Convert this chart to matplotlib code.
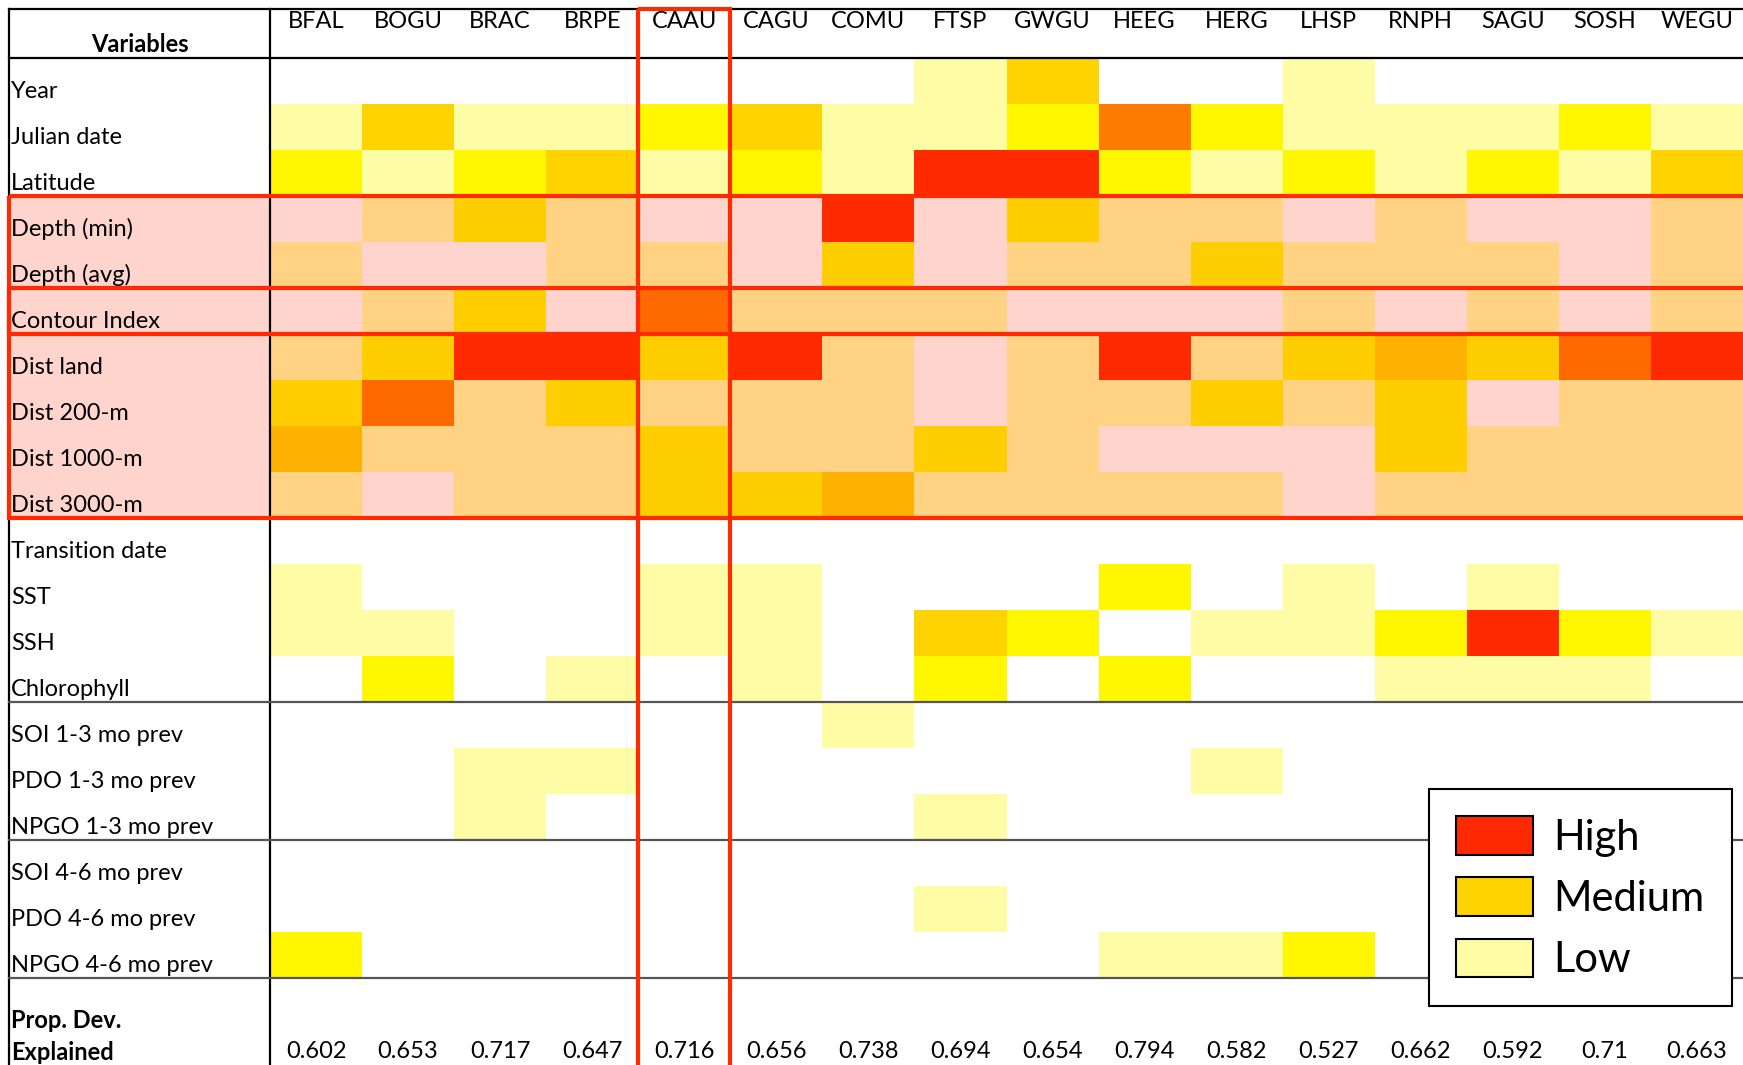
import numpy as np
import matplotlib.pyplot as plt
from matplotlib.colors import ListedColormap, BoundaryNorm
from matplotlib.patches import Rectangle, Patch

plt.rcParams['font.family'] = ['Lato', 'DejaVu Sans']

# виды (колонки) и переменные (строки)
species = ['BFAL', 'BOGU', 'BRAC', 'BRPE', 'CAAU', 'CAGU', 'COMU', 'FTSP',
           'GWGU', 'HEEG', 'HERG', 'LHSP', 'RNPH', 'SAGU', 'SOSH', 'WEGU']
variables = ['Year', 'Julian date', 'Latitude', 'Depth (min)', 'Depth (avg)',
             'Contour Index', 'Dist land', 'Dist 200-m', 'Dist 1000-m', 'Dist 3000-m',
             'Transition date', 'SST', 'SSH', 'Chlorophyll',
             'SOI 1-3 mo prev', 'PDO 1-3 mo prev', 'NPGO 1-3 mo prev',
             'SOI 4-6 mo prev', 'PDO 4-6 mo prev', 'NPGO 4-6 mo prev']
prop_dev = ['0.602', '0.653', '0.717', '0.647', '0.716', '0.656', '0.738', '0.694',
            '0.654', '0.794', '0.582', '0.527', '0.662', '0.592', '0.71', '0.663']

# уровни важности: 0 - нет, 1 - низкий ... 5 - высокий
importance = [
    [0, 0, 0, 0, 0, 0, 0, 1, 3, 0, 0, 1, 0, 0, 0, 0],
    [1, 3, 1, 1, 2, 3, 1, 1, 2, 4, 2, 1, 1, 1, 2, 1],
    [2, 1, 2, 3, 1, 2, 1, 5, 5, 2, 1, 2, 1, 2, 1, 3],
    [0, 1, 2, 1, 0, 0, 5, 0, 2, 1, 1, 0, 1, 0, 0, 1],
    [1, 0, 0, 1, 1, 0, 2, 0, 1, 1, 2, 1, 1, 1, 0, 1],
    [0, 1, 2, 0, 4, 1, 1, 1, 0, 0, 0, 1, 0, 1, 0, 1],
    [1, 2, 5, 5, 2, 5, 1, 0, 1, 5, 1, 2, 3, 2, 4, 5],
    [2, 4, 1, 2, 1, 1, 1, 0, 1, 1, 2, 1, 2, 0, 1, 1],
    [3, 1, 1, 1, 2, 1, 1, 2, 1, 0, 0, 0, 2, 1, 1, 1],
    [1, 0, 1, 1, 2, 2, 3, 1, 1, 1, 1, 0, 1, 1, 1, 1],
    [0, 0, 0, 0, 0, 0, 0, 0, 0, 0, 0, 0, 0, 0, 0, 0],
    [1, 0, 0, 0, 1, 1, 0, 0, 0, 2, 0, 1, 0, 1, 0, 0],
    [1, 1, 0, 0, 1, 1, 0, 3, 2, 0, 1, 1, 2, 5, 2, 1],
    [0, 2, 0, 1, 0, 1, 0, 2, 0, 2, 0, 0, 1, 1, 1, 0],
    [0, 0, 0, 0, 0, 0, 1, 0, 0, 0, 0, 0, 0, 0, 0, 0],
    [0, 0, 1, 1, 0, 0, 0, 0, 0, 0, 1, 0, 0, 0, 0, 0],
    [0, 0, 1, 0, 0, 0, 0, 1, 0, 0, 0, 0, 0, 0, 0, 0],
    [0, 0, 0, 0, 0, 0, 0, 0, 0, 0, 0, 0, 0, 0, 0, 0],
    [0, 0, 0, 0, 0, 0, 0, 1, 0, 0, 0, 0, 0, 0, 0, 0],
    [2, 0, 0, 0, 0, 0, 0, 0, 0, 1, 1, 2, 0, 0, 0, 0],
]
legend_labels = ['High', 'Medium', 'Low']

colors = ['white', '#FFFCA6', '#FFF700', '#FFD300', '#FF7B00', '#FF2A00']
red = '#FF2A00'

W, H = 1743, 1065
cw = (W - 270) / 16.0   # ширина колонки в пикселях
rh = 46.0               # высота строки
fig = plt.figure(figsize=(W / 100, H / 100), dpi=100)
ax = fig.add_axes([0, 0, 1, 1])
px = lambda x: (x - 270) / cw
py = lambda y: (y - 58) / rh
ax.set_xlim(px(0), px(W))
ax.set_ylim(py(H), py(0))
ax.axis('off')

data = np.array(importance)
cmap = ListedColormap(colors)
norm = BoundaryNorm(np.arange(-0.5, 6.5, 1), cmap.N)
ax.pcolormesh(np.arange(len(species) + 1), np.arange(len(variables) + 1), data,
              cmap=cmap, norm=norm, zorder=1)

left = px(9)
top = py(9)
# розовая подсветка блока глубин/расстояний
ax.add_patch(Rectangle((left, 3), px(W) - left, 7, facecolor=red, alpha=0.2,
                       edgecolor='none', zorder=2))

# линии таблицы
ax.plot([left, px(W)], [top, top], color='black', lw=1.6, zorder=3)
ax.plot([left, px(W)], [0, 0], color='black', lw=1.6, zorder=3)
ax.plot([left, left], [top, py(H)], color='black', lw=1.6, zorder=3)
ax.plot([0, 0], [top, py(H)], color='black', lw=1.6, zorder=3)
for r in [14, 17, 20]:
    ax.plot([left, px(W)], [r, r], color='#555555', lw=1.6, zorder=3)

# красные рамки
ax.add_patch(Rectangle((left, 3), px(W + 10) - left, 7, fill=False, edgecolor=red,
                       lw=3, zorder=4))
ax.add_patch(Rectangle((left, 5), px(W + 10) - left, 1, fill=False, edgecolor=red,
                       lw=3, zorder=4))
ax.add_patch(Rectangle((4, top), 1, py(H + 10) - top, fill=False, edgecolor=red,
                       lw=3, zorder=4))

# подписи
for i, s in enumerate(species):
    ax.text(i + 0.5, py(22), s, ha='center', va='center', fontsize=17, zorder=5)
    ax.text(i + 0.5, py(1052), prop_dev[i], ha='center', va='center', fontsize=17, zorder=5)
for j, v in enumerate(variables):
    ax.text(px(11), j + 0.72, v, ha='left', va='center', fontsize=17, zorder=5)
ax.text(px(140), py(44), 'Variables', ha='center', va='center', fontsize=17,
        fontweight='bold', zorder=5)
ax.text(px(11), py(1020), 'Prop. Dev.', ha='left', va='center', fontsize=17,
        fontweight='bold', zorder=5)
ax.text(px(11), py(1052), 'Explained', ha='left', va='center', fontsize=17,
        fontweight='bold', zorder=5)

handles = [Patch(facecolor=c, edgecolor='black', lw=1.5)
           for c in [colors[5], colors[3], colors[1]]]
leg = ax.legend(handles, legend_labels, loc='upper right',
                bbox_to_anchor=(1732 / W, 1 - 789 / H), bbox_transform=fig.transFigure,
                borderaxespad=0, fontsize=30, handlelength=1.85, handleheight=1.05,
                fancybox=False, edgecolor='black', framealpha=1, borderpad=0.65,
                labelspacing=0.5, handletextpad=0.5)
leg.get_frame().set_linewidth(1.5)
leg.set_zorder(6)

fig.savefig('out.png', dpi=100)
